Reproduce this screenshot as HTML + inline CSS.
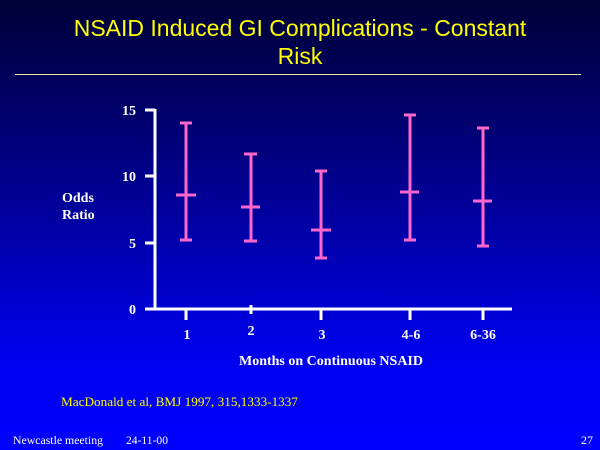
<!DOCTYPE html>
<html><head><style>
html,body{margin:0;padding:0}
body{width:600px;height:450px;overflow:hidden;position:relative;background:linear-gradient(to bottom,#000038 0%,#00006a 25%,#0000b0 55%,#0000f0 80%,#0000ff 100%);font-family:"Liberation Serif",serif}
.t{position:absolute;left:0;width:600px;text-align:center;color:#ffff00;font-family:"Liberation Sans",sans-serif;font-size:23px;line-height:28px}
</style></head><body>
<div class="t" style="top:14px">NSAID Induced GI Complications - Constant<br>Risk</div>
<div style="position:absolute;left:15px;top:74px;width:566px;height:1px;background:#e8e8a0"></div>
<svg width="600" height="450" style="position:absolute;left:0;top:0" font-family="Liberation Serif,serif">
<g stroke="#fff" stroke-width="3" fill="none">
<line x1="155" y1="109" x2="155" y2="310"/>
<line x1="145" y1="309" x2="512" y2="309"/>
<line x1="145" y1="110" x2="155" y2="110"/>
<line x1="145" y1="176" x2="155" y2="176"/>
<line x1="145" y1="243" x2="155" y2="243"/>
<line x1="186" y1="309" x2="186" y2="320"/>
<line x1="251" y1="305" x2="251" y2="314"/>
<line x1="321" y1="309" x2="321" y2="320"/>
<line x1="410" y1="309" x2="410" y2="320"/>
<line x1="483" y1="309" x2="483" y2="320"/>
</g>
<g fill="#fff" font-size="14" font-weight="bold" text-anchor="end">
<text x="136" y="115">15</text><text x="136" y="181">10</text><text x="136" y="248">5</text><text x="136" y="314">0</text>
</g>
<g fill="#fff" font-size="14" font-weight="bold" text-anchor="middle">
<text x="187" y="339">1</text><text x="251" y="335">2</text><text x="322" y="339">3</text><text x="411" y="339">4-6</text><text x="483" y="339">6-36</text>
<text x="331" y="365">Months on Continuous NSAID</text>
</g>
<g fill="#fff" font-size="14" font-weight="bold">
<text x="62" y="202">Odds</text><text x="62" y="219">Ratio</text>
</g>
<g stroke="#ff66cc" stroke-width="3" fill="none">
<path d="M186 123V240M180 123H192M180 240H192M176 195H196"/>
<path d="M251 154V241M244 154H257M244 241H257M241 207H260"/>
<path d="M321 171V258M315 171H327M315 258H327M311 230H331"/>
<path d="M410 115V240M404 115H416M404 240H416M400 192H419"/>
<path d="M483 128V246M477 128H489M477 246H489M473 201H492"/>
</g>
<text x="61" y="406" fill="#ffff00" font-size="13" textLength="237" lengthAdjust="spacingAndGlyphs">MacDonald et al, BMJ 1997, 315,1333-1337</text>
<g fill="#fff" font-size="12"><text x="13" y="444" textLength="90" lengthAdjust="spacingAndGlyphs">Newcastle meeting</text><text x="126" y="444" textLength="42" lengthAdjust="spacingAndGlyphs">24-11-00</text><text x="581" y="444">27</text></g>
</svg>
</body></html>
